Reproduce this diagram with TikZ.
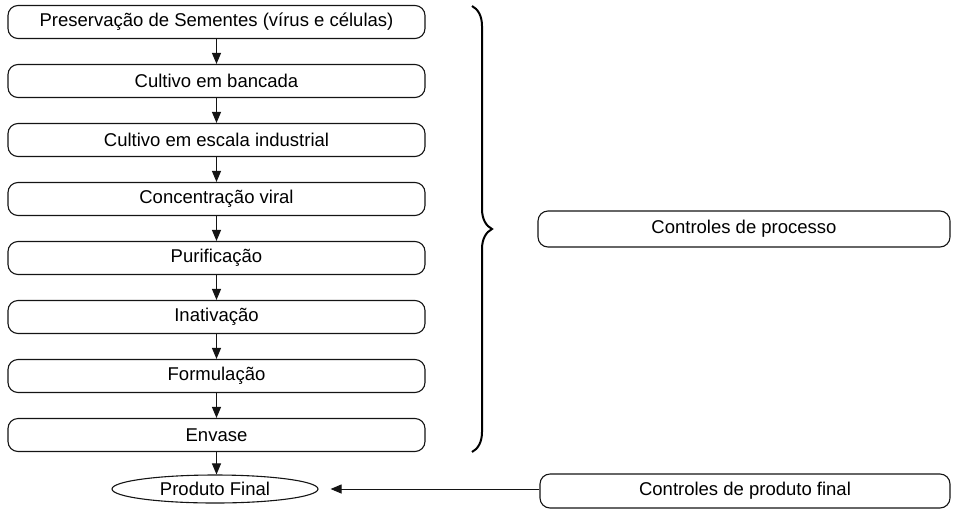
\documentclass[tikz,border=0pt]{standalone}
\usepackage{fontspec}
\setmainfont{Liberation Sans}
\usepackage{tikz}
\usetikzlibrary{arrows.meta,positioning,shapes.geometric,decorations.pathreplacing}
\definecolor{linegray}{RGB}{20,20,20}

\begin{document}
\begin{tikzpicture}[x=1pt, y=-1pt, every node/.style={font=\fontsize{18.5}{21}\selectfont},
    stepbox/.style={draw=linegray, line width=1.1pt, rounded corners=10pt,
      minimum width=417pt, minimum height=33pt, inner sep=0pt},
    flow/.style={draw=linegray, line width=1pt, -{Triangle[width=9pt,length=11pt]}}]
        \useasboundingbox (0,0) rectangle (955,509);
        % Process steps
        \foreach \k/\txt in {1/{Preservação de Sementes (vírus e células)},
            2/{Cultivo em bancada}, 3/{Cultivo em escala industrial},
            4/{Concentração viral}, 5/{Purificação}, 6/{Inativação},
            7/{Formulação}, 8/{Envase}} {
          \node[stepbox] (s\k) at (216.5, {22+59*(\k-1)}) {\txt};
        }
        \node[draw=linegray, line width=1.1pt, ellipse, minimum width=206pt,
          minimum height=28pt, inner sep=0pt] (final) at (215,489) {Produto Final};
        % Controls
        \node[stepbox, minimum width=412pt, minimum height=36pt] (proc) at (744,229)
          {Controles de processo};
        \node[stepbox, minimum width=410pt, minimum height=34pt] (prod) at (745,491)
          {Controles de produto final};
        % Arrows
        \foreach \a/\b in {1/2,2/3,3/4,4/5,5/6,6/7,7/8} {
          \draw[flow] (s\a) -- (s\b);
        }
        \draw[flow] (s8) -- (s8 |- final.north);
        \draw[flow, shorten >=12pt] (prod.west |- final) -- (final.east);
        % Brace
        \draw[decorate, decoration={brace, amplitude=20pt}, line width=2pt]
          (472,6) -- (472,452);
      \end{tikzpicture}
\end{document}
